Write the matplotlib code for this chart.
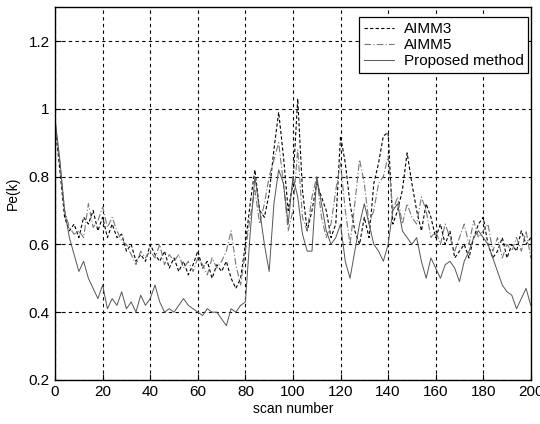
import numpy as np
import matplotlib
matplotlib.use("Agg")
import matplotlib.pyplot as plt

plt.rcParams['font.family'] = ['Liberation Sans', 'DejaVu Sans']

# scan numbers (every second scan)
scans = list(range(0, 201, 2))

aimm3 = [0.95, 0.82, 0.68, 0.64, 0.66, 0.62, 0.68, 0.66, 0.70, 0.64,
         0.68, 0.62, 0.66, 0.62, 0.63, 0.58, 0.60, 0.55, 0.57, 0.55,
         0.60, 0.57, 0.55, 0.58, 0.53, 0.56, 0.52, 0.55, 0.51, 0.54,
         0.58, 0.53, 0.55, 0.50, 0.54, 0.52, 0.55, 0.50, 0.47, 0.50,
         0.60, 0.72, 0.82, 0.70, 0.68, 0.75, 0.88, 0.99, 0.86, 0.70,
         0.78, 1.03, 0.76, 0.64, 0.70, 0.78, 0.74, 0.70, 0.62, 0.66,
         0.92, 0.84, 0.72, 0.64, 0.60, 0.68, 0.62, 0.78, 0.84, 0.92,
         0.93, 0.66, 0.70, 0.76, 0.87, 0.78, 0.70, 0.64, 0.72, 0.68,
         0.62, 0.66, 0.60, 0.64, 0.56, 0.58, 0.60, 0.56, 0.62, 0.66,
         0.68, 0.60, 0.56, 0.58, 0.62, 0.56, 0.60, 0.58, 0.64, 0.60,
         0.62]

aimm5 = [0.96, 0.84, 0.70, 0.65, 0.63, 0.64, 0.62, 0.72, 0.65, 0.67,
         0.71, 0.65, 0.68, 0.64, 0.61, 0.60, 0.57, 0.54, 0.58, 0.56,
         0.58, 0.56, 0.60, 0.54, 0.57, 0.55, 0.57, 0.53, 0.55, 0.52,
         0.56, 0.54, 0.51, 0.56, 0.53, 0.55, 0.58, 0.64, 0.54, 0.48,
         0.58, 0.68, 0.76, 0.66, 0.72, 0.80, 0.85, 0.90, 0.78, 0.64,
         0.70, 0.88, 0.68, 0.64, 0.74, 0.80, 0.68, 0.62, 0.66, 0.76,
         0.84, 0.70, 0.60, 0.72, 0.85, 0.78, 0.66, 0.70, 0.78, 0.80,
         0.86, 0.70, 0.74, 0.66, 0.72, 0.68, 0.66, 0.74, 0.70, 0.62,
         0.64, 0.60, 0.66, 0.62, 0.58, 0.62, 0.66, 0.60, 0.67, 0.62,
         0.64, 0.66, 0.58, 0.62, 0.56, 0.60, 0.58, 0.62, 0.58, 0.64,
         0.56]

proposed = [0.97, 0.85, 0.70, 0.62, 0.57, 0.52, 0.55, 0.50, 0.47, 0.44,
            0.48, 0.41, 0.44, 0.42, 0.46, 0.41, 0.43, 0.40, 0.45, 0.42,
            0.44, 0.48, 0.43, 0.40, 0.41, 0.40, 0.42, 0.44, 0.42, 0.41,
            0.40, 0.39, 0.41, 0.40, 0.40, 0.38, 0.36, 0.41, 0.40, 0.42,
            0.43, 0.63, 0.80, 0.70, 0.60, 0.52, 0.72, 0.82, 0.78, 0.66,
            0.80, 0.74, 0.63, 0.58, 0.58, 0.80, 0.72, 0.64, 0.60, 0.62,
            0.66, 0.55, 0.50, 0.58, 0.66, 0.72, 0.66, 0.60, 0.58, 0.55,
            0.60, 0.70, 0.72, 0.64, 0.62, 0.60, 0.62, 0.55, 0.50, 0.56,
            0.53, 0.50, 0.54, 0.55, 0.53, 0.49, 0.55, 0.58, 0.62, 0.64,
            0.62, 0.60, 0.56, 0.52, 0.48, 0.46, 0.45, 0.41, 0.44, 0.47,
            0.42]

fig = plt.figure(figsize=(5.4, 4.24), dpi=100)
ax = fig.add_axes([0.102, 0.104, 0.881, 0.879])

ax.plot(scans, aimm3, color='black', lw=0.8, ls=(0, (3, 2)), label='AIMM3')
ax.plot(scans, aimm5, color='#777777', lw=0.8, ls=(0, (6, 2, 1, 2)), label='AIMM5')
ax.plot(scans, proposed, color='#555555', lw=0.7, ls='-', label='Proposed method')

ax.set_xlim(0, 200)
ax.set_ylim(0.2, 1.3)
ax.set_xticks(range(0, 201, 20))
ax.set_yticks([0.2, 0.4, 0.6, 0.8, 1.0, 1.2])
ax.set_yticklabels(['0.2', '0.4', '0.6', '0.8', '1', '1.2'])
ax.tick_params(direction='in', length=4, labelsize=11, color='black', pad=4)
ax.grid(True, color='black', ls=(0, (3, 3)), lw=0.8)
for s in ax.spines.values():
    s.set_linewidth(1.0)

ax.set_xlabel('scan number', fontsize=10, labelpad=2)
ax.set_ylabel('Pe(k)', fontsize=10, labelpad=6)

# legend sits a little below the top border, almost flush right
leg = ax.legend(loc='upper right', bbox_to_anchor=(0.994, 0.973),
                fontsize=11, fancybox=False, framealpha=1,
                edgecolor='black', handlelength=2.0, handletextpad=0.6,
                borderaxespad=0.0, borderpad=0.3, labelspacing=0.15)
leg.get_frame().set_linewidth(0.9)

fig.savefig('out.png', dpi=100)
